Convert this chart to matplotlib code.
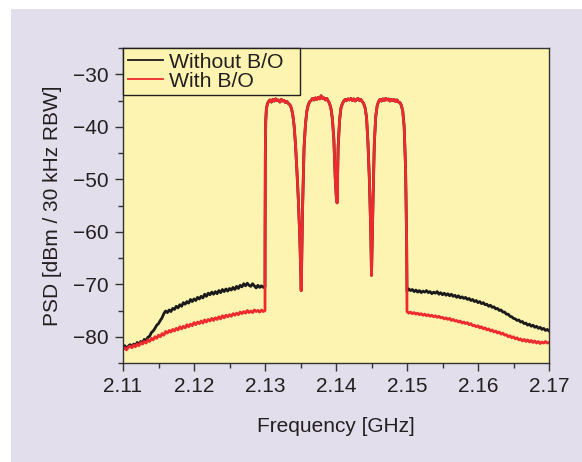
import numpy as np
import matplotlib as mpl
import matplotlib.pyplot as plt
from matplotlib.patches import Rectangle
from matplotlib.ticker import MultipleLocator

mpl.use("Agg")
plt.rcParams["font.family"] = ["Liberation Sans", "DejaVu Sans"]

# lower skirt, 2.110 .. 2.130 GHz, 0.25 MHz steps
f_low = np.arange(81) * 0.00025 + 2.110
low_without = [-82.1, -81.7, -82.3, -81.8, -81.5, -81.9, -81.4, -81.7, -81.1, -81.4,
               -80.9, -81.2, -80.5, -80.8, -80.1, -79.9, -79.2, -78.9, -78.4, -77.8,
               -77.5, -76.9, -76.4, -75.6, -75.1, -75.4, -74.9, -75.2, -74.6, -74.8,
               -74.2, -74.5, -73.9, -74.2, -73.5, -73.8, -73.3, -73.6, -72.9, -73.3,
               -72.8, -73.1, -72.5, -72.8, -72.3, -72.6, -71.9, -72.3, -71.7, -72.0,
               -71.5, -71.9, -71.4, -71.8, -71.2, -71.6, -71.0, -71.4, -70.9, -71.3,
               -70.8, -71.1, -70.6, -71.0, -70.4, -70.8, -70.2, -70.5, -69.9, -70.3,
               -69.8, -70.2, -70.4, -69.9, -70.3, -70.7, -70.2, -70.6, -70.3, -70.6,
               -70.4]
low_with = [-82.4, -82.1, -82.5, -82.0, -81.8, -82.1, -81.6, -81.9, -81.4, -81.7,
            -81.1, -81.4, -80.9, -81.2, -80.6, -80.9, -80.3, -80.6, -80.0, -80.3,
            -79.7, -80.0, -79.4, -79.7, -79.0, -79.3, -78.8, -79.1, -78.6, -78.9,
            -78.4, -78.7, -78.1, -78.5, -78.0, -78.3, -77.7, -78.1, -77.6, -77.9,
            -77.3, -77.7, -77.2, -77.5, -77.0, -77.4, -76.8, -77.2, -76.7, -77.0,
            -76.5, -76.9, -76.4, -76.7, -76.2, -76.6, -76.0, -76.4, -75.9, -76.2,
            -75.8, -76.1, -75.6, -75.9, -75.5, -75.8, -75.3, -75.6, -75.2, -75.5,
            -75.0, -75.4, -75.1, -75.4, -74.9, -75.2, -75.0, -75.3, -74.9, -75.2,
            -75.0]

# four carriers, 2.130 .. 2.150 GHz
f_band = [2.13001, 2.13005, 2.13010, 2.13020, 2.13035, 2.1305, 2.1307, 2.1309, 2.1311,
          2.1313, 2.1315, 2.1317, 2.1319, 2.1321, 2.1323, 2.1325, 2.1327, 2.1329, 2.1331,
          2.1333, 2.1335, 2.1337, 2.1339, 2.1341, 2.1343, 2.1345, 2.1347, 2.1349, 2.1351,
          2.1353, 2.1355, 2.1357, 2.1359, 2.1361, 2.1363, 2.1365, 2.1367, 2.1369, 2.1371,
          2.1373, 2.1375, 2.1377, 2.1379, 2.1381, 2.1383, 2.1385, 2.1387, 2.1389, 2.1391,
          2.1393, 2.1395, 2.1397, 2.1399, 2.14005, 2.1401, 2.14015, 2.1403, 2.1405, 2.1407,
          2.1409, 2.1411, 2.1413, 2.1415, 2.1417, 2.1419, 2.1421, 2.1423, 2.1425, 2.1427,
          2.1429, 2.1431, 2.1433, 2.1435, 2.1437, 2.1439, 2.1441, 2.1443, 2.1445, 2.1447,
          2.1449, 2.1450, 2.1452, 2.1454, 2.1456, 2.1458, 2.1460, 2.1462, 2.1464, 2.1466,
          2.1468, 2.1470, 2.1472, 2.1474, 2.1476, 2.1478, 2.1480, 2.1482, 2.1484, 2.1486,
          2.1488, 2.1490, 2.1492, 2.1494, 2.1496, 2.1498, 2.14995]
band = [-62, -45, -39, -36.5, -35.6, -35.2, -34.9, -35.3, -34.8,
        -35.1, -34.7, -35.0, -34.9, -35.3, -34.8, -35.1, -35.0, -35.4, -35.2,
        -35.6, -35.8, -36.4, -37.6, -39.8, -43.5, -48.5, -54, -61, -71.2,
        -55, -44, -39.5, -37, -35.8, -35.2, -35.0, -34.6, -34.9, -34.5,
        -34.8, -34.4, -34.7, -34.1, -34.6, -34.5, -34.9, -34.6, -35.1, -35.6,
        -36.6, -38.6, -42.5, -50, -53.5, -47, -54.5, -44, -38.8, -36.4,
        -35.6, -35.1, -34.8, -35.0, -34.7, -34.9, -34.6, -35.0, -34.7, -35.1,
        -34.8, -34.6, -35.0, -34.8, -35.2, -35.6, -36.4, -38.2, -43, -50,
        -60, -68.3, -55, -43, -38, -36, -35.2, -34.8, -35.1, -34.7,
        -35.0, -34.6, -34.9, -34.7, -35.1, -34.8, -35.0, -34.8, -35.2, -34.9,
        -35.3, -35.4, -35.9, -37, -40, -48, -62]

# upper skirt, 2.150 .. 2.170 GHz
f_up = np.arange(81) * 0.00025 + 2.150
up_without = [-71.3, -70.9, -71.2, -71.0, -71.4, -71.1, -71.5, -71.2, -71.6, -71.3,
              -71.5, -71.2, -71.6, -71.4, -71.8, -71.5, -71.7, -71.4, -71.9, -71.6,
              -72.0, -71.7, -72.1, -71.8, -72.2, -71.9, -72.3, -72.1, -72.5, -72.2,
              -72.6, -72.4, -72.7, -72.5, -72.9, -72.7, -73.1, -72.9, -73.3, -73.1,
              -73.5, -73.3, -73.7, -73.5, -73.9, -73.8, -74.2, -74.0, -74.4, -74.3,
              -74.7, -74.6, -75.0, -74.9, -75.3, -75.3, -75.7, -75.7, -76.1, -76.2,
              -76.5, -76.6, -76.9, -76.8, -77.2, -77.1, -77.5, -77.4, -77.8, -77.6,
              -78.0, -77.8, -78.2, -78.0, -78.4, -78.2, -78.6, -78.4, -78.8, -78.6,
              -78.9]
up_with = [-75.2, -75.5, -75.3, -75.6, -75.4, -75.7, -75.5, -75.8, -75.6, -75.9,
           -75.7, -76.0, -75.8, -76.1, -75.9, -76.2, -76.0, -76.3, -76.1, -76.4,
           -76.3, -76.6, -76.4, -76.7, -76.5, -76.9, -76.7, -77.0, -76.9, -77.2,
           -77.0, -77.4, -77.2, -77.5, -77.3, -77.7, -77.5, -77.9, -77.8, -78.1,
           -77.9, -78.3, -78.1, -78.5, -78.3, -78.7, -78.5, -78.9, -78.7, -79.1,
           -78.9, -79.3, -79.1, -79.5, -79.3, -79.7, -79.6, -80.0, -79.8, -80.2,
           -80.0, -80.4, -80.2, -80.6, -80.4, -80.8, -80.5, -80.9, -80.6, -81.0,
           -80.7, -81.1, -80.8, -81.2, -80.9, -81.3, -81.0, -81.2, -80.9, -81.2,
           -81.1]

freq = np.concatenate([f_low, f_band, f_up])
psd_without = np.concatenate([low_without, band, up_without])
psd_with = np.concatenate([low_with, band, up_with])

txt = "#231f20"
fs = 15
fig = plt.figure(figsize=(5.82, 4.62), dpi=100, facecolor="white")
fig.patches.append(Rectangle((11 / 582, -0.01), 1, 1.01 - 9 / 462, transform=fig.transFigure,
                             facecolor="#e3deeb", edgecolor="none", zorder=-10))
ax = fig.add_axes([123 / 582, 1 - 363 / 462, 426 / 582, 315 / 462])
ax.set_facecolor("#fdf4b2")

ax.plot(freq, psd_without, color="#1a1a1a", lw=2.0, label="Without B/O  ")
ax.plot(freq, psd_with, color="#ee2a2e", lw=2.0, label="With B/O")

ax.set_xlim(2.11, 2.17)
ax.set_ylim(-85, -25)
ax.xaxis.set_minor_locator(MultipleLocator(0.005))
ax.yaxis.set_minor_locator(MultipleLocator(5))
ax.set_xticks(np.arange(2.11, 2.171, 0.01))
ax.set_xticklabels(["2.11", "2.12", "2.13", "2.14", "2.15", "2.16", "2.17"])
ax.set_yticks([-80, -70, -60, -50, -40, -30])
ax.set_yticklabels(["\u221280", "\u221270", "\u221260", "\u221250", "\u221240", "\u221230"])
ax.tick_params(which="major", direction="out", length=6, width=1, color="#333333",
               labelsize=fs, labelcolor=txt, pad=4)
ax.tick_params(which="minor", direction="out", length=3.5, width=1, color="#333333")
for s in ax.spines.values():
    s.set_color("#333333")
    s.set_linewidth(1)

ax.set_xlabel("Frequency [GHz]", fontsize=fs, color=txt, labelpad=15)
ax.set_ylabel("PSD [dBm / 30 kHz RBW]", fontsize=fs, color=txt, labelpad=8)

leg = ax.legend(loc="upper left", borderaxespad=0, fontsize=15.3, frameon=True,
                fancybox=False, facecolor="#fdf4b2", edgecolor="#231f20",
                handlelength=1.65, handletextpad=0.3, labelspacing=0.0,
                borderpad=0.22, framealpha=1)
leg.get_frame().set_linewidth(1)
for line in leg.get_lines():
    line.set_linewidth(1.3)
for t in leg.get_texts():
    t.set_color(txt)

fig.savefig("out.png", dpi=100)
